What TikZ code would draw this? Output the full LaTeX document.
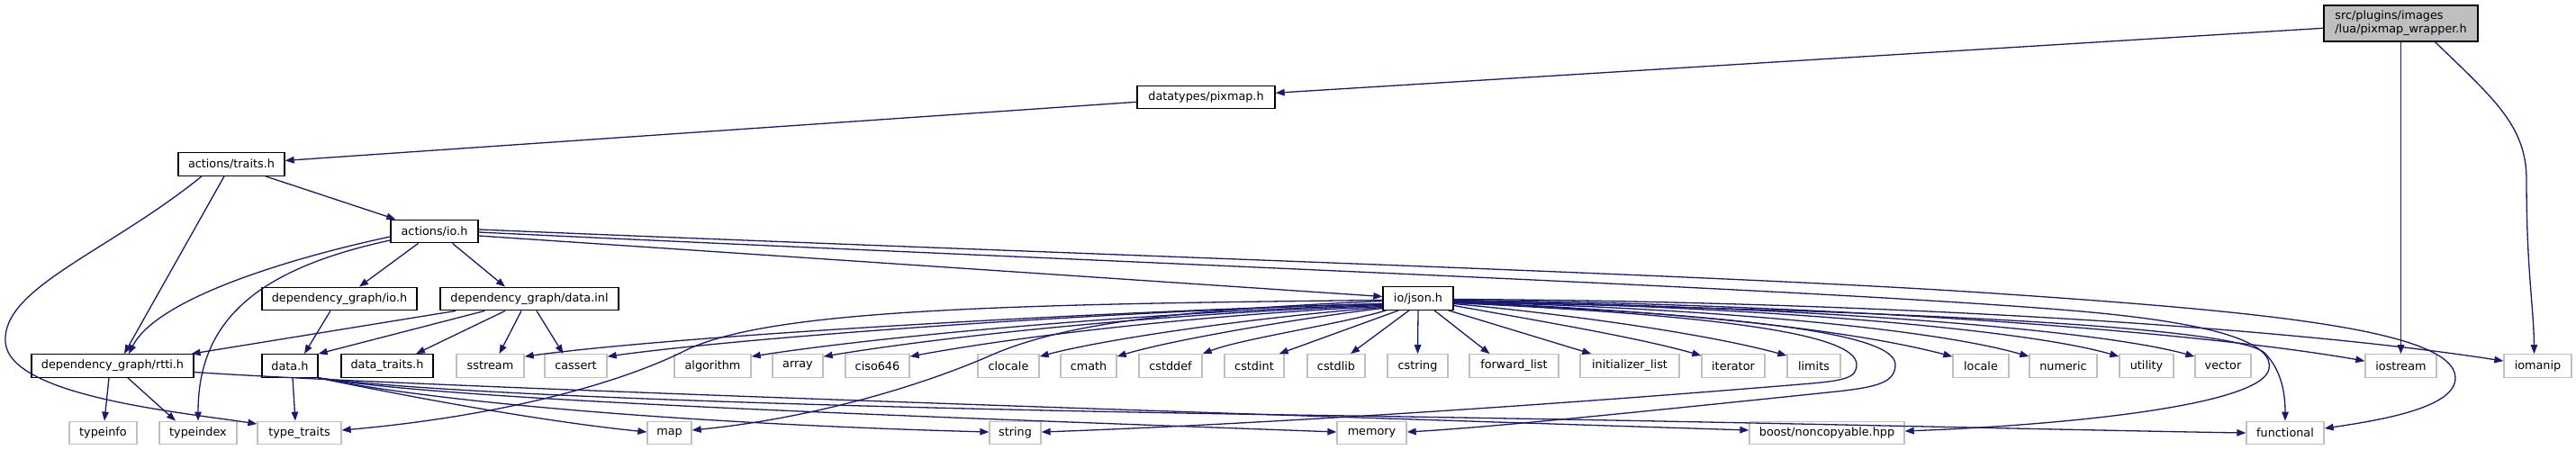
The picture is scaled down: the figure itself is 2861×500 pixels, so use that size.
\documentclass[tikz,border=0pt]{standalone}
\usepackage{fontspec}
\setmainfont{DejaVu Sans}
\usetikzlibrary{arrows.meta,calc}
\definecolor{edgeblue}{HTML}{191970}
\definecolor{sysgray}{HTML}{BFBFBF}
\begin{document}
\begin{tikzpicture}[x=1pt,y=-1pt,
  base/.style={rectangle,inner sep=0pt,minimum height=25.5pt,line width=1.3pt,
    font=\fontsize{12.8}{15}\selectfont,text=black},
  fnode/.style={base,draw=black,fill=white},
  snode/.style={base,draw=sysgray,fill=white},
  edge/.style={draw=edgeblue,line width=1.3pt,-{Triangle[length=10pt,width=7.5pt]}}]
\useasboundingbox (0,0) rectangle (2861,500);
\fill[white] (0,0) rectangle (2861,500);
% ---- nodes
\node[base,draw=black,fill=sysgray,minimum width=171pt,minimum height=40pt,align=left] (wrap) at (2666.5,26) {src/plugins/images\\/lua/pixmap\_wrapper.h};
\node[fnode,minimum width=153pt] (pixmap) at (1339.5,108) {datatypes/pixmap.h};
\node[fnode,minimum width=118pt] (traits) at (257,182.5) {actions/traits.h};
\node[fnode,minimum width=97pt] (aio) at (482.5,257) {actions/io.h};
\node[fnode,minimum width=172pt] (dgio) at (377,332) {dependency\_graph/io.h};
\node[fnode,minimum width=198pt] (dginl) at (588,332) {dependency\_graph/data.inl};
\node[fnode,minimum width=78pt] (json) at (1575,331.5) {io/json.h};
% row 5
\node[fnode,minimum width=180pt] (rtti) at (125,406.5) {dependency\_graph/rtti.h};
\node[fnode,minimum width=62pt] (datah) at (322,406.5) {data.h};
\node[fnode,minimum width=102pt] (dtraits) at (430,406.5) {data\_traits.h};
\node[snode,minimum width=75pt] (sstream) at (544.5,406.5) {sstream};
\node[snode,minimum width=69pt] (cassert) at (639.5,406.5) {cassert};
\node[snode,minimum width=85pt] (algorithm) at (791.5,406.5) {algorithm};
\node[snode,minimum width=56pt] (array) at (886,406.5) {array};
\node[snode,minimum width=71pt] (ciso646) at (974.5,406.5) {ciso646};
\node[snode,minimum width=68pt] (clocale) at (1120,406.5) {clocale};
\node[snode,minimum width=62pt] (cmath) at (1209,406.5) {cmath};
\node[snode,minimum width=70pt] (cstddef) at (1300,406.5) {cstddef};
\node[snode,minimum width=66pt] (cstdint) at (1393,406.5) {cstdint};
\node[snode,minimum width=64pt] (cstdlib) at (1484,406.5) {cstdlib};
\node[snode,minimum width=67pt] (cstring) at (1574.5,406.5) {cstring};
\node[snode,minimum width=99pt] (fwdlist) at (1681.5,406.5) {forward\_list};
\node[snode,minimum width=110pt] (initlist) at (1810,406.5) {initializer\_list};
\node[snode,minimum width=70pt] (iterator) at (1925,406.5) {iterator};
\node[snode,minimum width=59pt] (limits) at (2014.5,406.5) {limits};
\node[snode,minimum width=62pt] (locale) at (2200,406.5) {locale};
\node[snode,minimum width=75pt] (numeric) at (2291.5,406.5) {numeric};
\node[snode,minimum width=60pt] (utility) at (2384,406.5) {utility};
\node[snode,minimum width=62pt] (vector) at (2469,406.5) {vector};
\node[snode,minimum width=79pt] (iostream) at (2666.5,406.5) {iostream};
\node[snode,minimum width=75pt] (iomanip) at (2818.5,406.5) {iomanip};
% row 6
\node[snode,minimum width=75pt] (typeinfo) at (114.5,481) {typeinfo};
\node[snode,minimum width=86pt] (typeindex) at (220,481) {typeindex};
\node[snode,minimum width=93pt] (typetraits) at (332.5,481) {type\_traits};
\node[snode,minimum width=49pt] (map) at (743.5,481) {map};
\node[snode,minimum width=57pt] (string) at (1127.5,481) {string};
\node[snode,minimum width=77pt] (memory) at (1523.5,481) {memory};
\node[snode,minimum width=172pt] (boost) at (2029,481) {boost/noncopyable.hpp};
\node[snode,minimum width=86pt] (functional) at (2538,481) {functional};
% ---- edges
\draw[edge] (wrap) -- (pixmap);
\draw[edge] (wrap) -- (iostream);
\draw[edge] ($(wrap.south)+(38,0)$) .. controls (2770,110) and (2806,140) .. (2806,200) .. controls (2806,300) and (2814,340) .. ($(iomanip.north)+(-4,0)$);
\draw[edge] (pixmap) -- (traits);
\draw[edge] ($(traits.south)+(38,0)$) -- ($(aio.north west)+(6,0)$);
\draw[edge] ($(traits.south)+(-8,0)$) -- ($(rtti.north)+(13,0)$);
\draw[edge] ($(traits.south)+(-33,0)$) .. controls (120,280) and (2,320) .. (6,380) .. controls (10,440) and (200,458) .. ($(typetraits.west)+(0,-10)$);
\draw[edge] ($(aio.west)+(0,6)$) .. controls (330,285) and (175,330) .. ($(rtti.north)+(18,0)$);
\draw[edge] ($(aio.west)+(0,10)$) .. controls (280,300) and (220,360) .. (typeindex.north);
\draw[edge] ($(aio.south)+(-18,0)$) -- ($(dgio.north)+(22,0)$);
\draw[edge] ($(aio.south)+(20,0)$) -- ($(dginl.north)+(-27,0)$);
\draw[edge] ($(aio.east)+(0,5)$) -- ($(json.west)+(0,-2)$);
\draw[edge] ($(aio.east)+(0,-2)$) .. controls (1200,283) and (1900,305) .. (2200,325) .. controls (2500,345) and (2727,365) .. (2727,420) .. controls (2727,452) and (2650,466) .. ($(functional.east)+(0,-5)$);
\draw[edge] ($(aio.east)+(0,1)$) .. controls (1200,290) and (2000,320) .. (2300,345) .. controls (2480,360) and (2525,385) .. (2520,410) .. controls (2512,450) and (2300,472) .. ($(boost.east)+(0,-2)$);
\draw[edge] ($(dgio.south)+(-10,0)$) -- ($(datah.north)+(16,0)$);
\draw[edge] ($(dginl.south west)+(18,0)$) -- ($(rtti.north east)+(-3,0)$);
\draw[edge] ($(dginl.south west)+(50,0)$) -- (datah.north east);
\draw[edge] ($(dginl.south)+(-27,0)$) -- ($(dtraits.north)+(32,0)$);
\draw[edge] ($(dginl.south)+(-9,0)$) -- ($(sstream.north)+(10,0)$);
\draw[edge] ($(dginl.south)+(8,0)$) -- ($(cassert.north)+(-14,0)$);
\draw[edge] ($(rtti.south)+(-4,0)$) -- ($(typeinfo.north)+(1.5,0)$);
\draw[edge] ($(rtti.south)+(17,0)$) -- ($(typeindex.north)+(-25,0)$);
\draw[edge] ($(rtti.east)+(0,7)$) .. controls (400,426) and (1000,448) .. ($(boost.west)+(0,-3)$);
\draw[edge] ($(datah.south)+(3,0)$) -- ($(typetraits.north)+(-4.5,0)$);
\draw[edge] (datah.south east) .. controls (450,440) and (600,468) .. ($(map.west)+(0,-1)$);
\draw[edge] (datah.south east) .. controls (500,450) and (800,472) .. ($(string.west)+(0,-1)$);
\draw[edge] (datah.south east) .. controls (500,445) and (1000,462) .. ($(memory.west)+(0,-1)$);
\draw[edge] (datah.south east) .. controls (500,440) and (1000,455) .. (1500,462) .. controls (2000,470) and (2300,478) .. (functional.west);
% json edges
\draw[edge] ($(json.west)+(0,6)$) .. controls (1250,345) and (760,372) .. ($(sstream.north east)+(0,3)$);
\draw[edge] ($(json.west)+(0,6)$) .. controls (1260,345) and (850,372) .. ($(cassert.north east)+(0,3)$);
\draw[edge] ($(json.west)+(0,7)$) .. controls (1280,347) and (990,372) .. ($(algorithm.north east)+(0,3)$);
\draw[edge] ($(json.west)+(0,8)$) .. controls (1300,348) and (1060,372) .. ($(array.north east)+(0,3)$);
\draw[edge] ($(json.west)+(0,9)$) .. controls (1330,350) and (1130,374) .. ($(ciso646.north east)+(0,3)$);
\draw[edge] ($(json.west)+(0,10)$) .. controls (1400,352) and (1230,376) .. ($(clocale.north east)+(0,3)$);
\draw[edge] ($(json.west)+(0,11)$) .. controls (1440,354) and (1300,378) .. ($(cmath.north east)+(0,3)$);
\draw[edge] ($(json.south west)+(4,0)$) .. controls (1490,360) and (1380,376) .. (cstddef.north east);
\draw[edge] ($(json.south west)+(18,0)$) -- ($(cstdint.north east)+(-6,0)$);
\draw[edge] ($(json.south)+(-10,0)$) -- ($(cstdlib.north)+(16,0)$);
\draw[edge] (json.south) -- (cstring.north);
\draw[edge] ($(json.south)+(18,0)$) -- ($(fwdlist.north)+(-27,0)$);
\draw[edge] ($(json.south east)+(-6,0)$) -- ($(initlist.north west)+(13,0)$);
\draw[edge] ($(json.east)+(0,8)$) .. controls (1700,355) and (1820,375) .. ($(iterator.north west)+(0,2)$);
\draw[edge] ($(json.east)+(0,6)$) .. controls (1750,350) and (1900,372) .. ($(limits.north west)+(0,2)$);
\draw[edge] ($(json.east)+(0,4)$) .. controls (1850,345) and (2050,365) .. ($(locale.north west)+(0,3)$);
\draw[edge] ($(json.east)+(0,4)$) .. controls (1900,342) and (2150,366) .. ($(numeric.north west)+(0,3)$);
\draw[edge] ($(json.east)+(0,3)$) .. controls (1950,340) and (2250,366) .. ($(utility.north west)+(0,3)$);
\draw[edge] ($(json.east)+(0,3)$) .. controls (2000,340) and (2330,366) .. ($(vector.north west)+(0,3)$);
\draw[edge] ($(json.east)+(0,2)$) .. controls (2050,338) and (2450,370) .. ($(iostream.north west)+(0,8)$);
\draw[edge] ($(json.east)+(0,1)$) .. controls (2100,335) and (2550,365) .. ($(iomanip.north west)+(0,8)$);
\draw[edge] ($(json.west)+(0,2)$) .. controls (1100,338) and (850,345) .. (760,390) .. controls (690,425) and (560,462) .. ($(typetraits.east)+(0,-3)$);
\draw[edge] ($(json.west)+(0,3)$) .. controls (1300,345) and (1180,360) .. (1100,395) .. controls (1020,430) and (900,465) .. ($(map.east)+(0,-3)$);
\draw[edge] ($(json.east)+(0,5)$) .. controls (1900,350) and (2062,370) .. (2062,405) .. controls (2062,420) and (2050,423) .. (2000,427) .. controls (1600,460) and (1300,475) .. ($(string.east)+(0,-1)$);
\draw[edge] ($(json.east)+(0,5)$) .. controls (1950,350) and (2105,372) .. (2105,405) .. controls (2105,425) and (2085,430) .. (2040,435) .. controls (1800,460) and (1650,475) .. ($(memory.east)+(0,-1)$);
\draw[edge] ($(json.east)+(0,4)$) .. controls (2100,345) and (2480,362) .. (2515,392) .. controls (2535,412) and (2538,440) .. (functional.north);
\end{tikzpicture}
\end{document}
